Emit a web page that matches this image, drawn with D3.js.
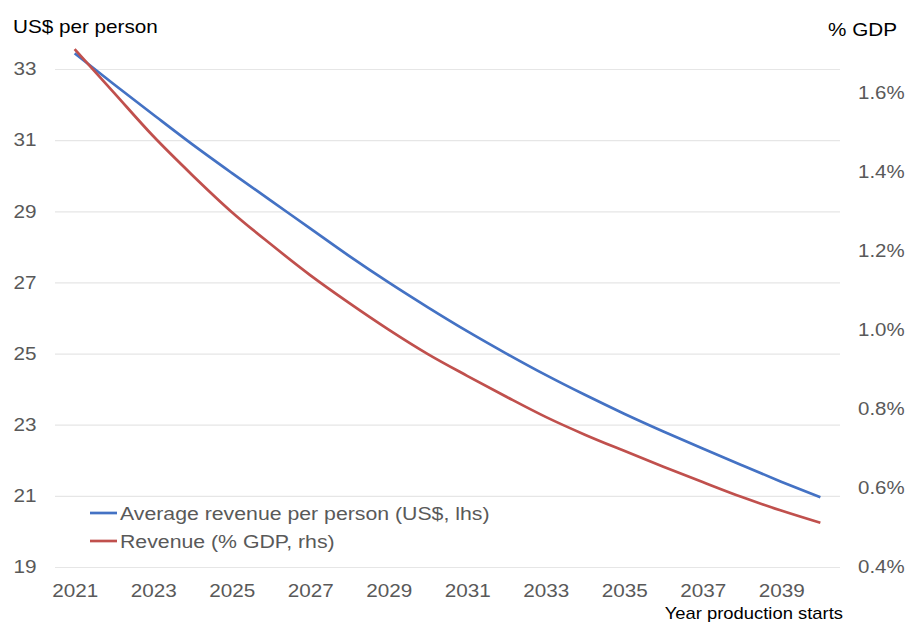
<!DOCTYPE html>
<html>
<head>
<meta charset="utf-8">
<script src="https://cdn.jsdelivr.net/npm/d3@7/dist/d3.min.js"></script>
<style>
  html, body { margin: 0; padding: 0; background: #fff; }
  svg { display: block; font-family: "Liberation Sans", Arial, sans-serif; }
</style>
</head>
<body>
<svg id="chart" width="907" height="623"></svg>
<script>
// ---- data ----
const years = [2021, 2022, 2023, 2024, 2025, 2026, 2027, 2028, 2029, 2030,
               2031, 2032, 2033, 2034, 2035, 2036, 2037, 2038, 2039, 2040];
const revenuePerPerson = [33.44, 32.57, 31.72, 30.88, 30.08, 29.30, 28.52, 27.74, 27.00, 26.30,
                          25.63, 25.00, 24.40, 23.84, 23.31, 22.81, 22.33, 21.86, 21.40, 20.96];
const revenuePctGDP = [1.711, 1.601, 1.491, 1.392, 1.299, 1.217, 1.139, 1.068, 1.001, 0.939,
                       0.884, 0.831, 0.780, 0.735, 0.694, 0.654, 0.615, 0.577, 0.543, 0.512];
const xTickLabels = [2021, 2023, 2025, 2027, 2029, 2031, 2033, 2035, 2037, 2039];
const leftTicks = [19, 21, 23, 25, 27, 29, 31, 33];
const rightTicks = [0.4, 0.6, 0.8, 1.0, 1.2, 1.4, 1.6];
const seriesNames = ["Average revenue per person (US$, lhs)", "Revenue (% GDP, rhs)"];

// ---- layout ----
const svg = d3.select("#chart");
const plotL = 55, plotR = 840;
const stretch = "scale(1.15,1)";
const blue = "#4472C4", red = "#C0504D", tickColor = "#595959";

const x = d3.scalePoint().domain(years).range([plotL, plotR]).padding(0.5);
const yL = d3.scaleLinear().domain([19, 33]).range([567, 69]);
const yR = d3.scaleLinear().domain([0.4, 1.6]).range([567, 93]);

// gridlines
const grid = svg.append("g").attr("transform", `translate(${plotL},0)`)
  .call(d3.axisLeft(yL).tickValues(leftTicks).tickSize(-(plotR - plotL)).tickFormat(""));
grid.select(".domain").remove();
grid.selectAll(".tick line").attr("stroke", "#e6e6e6").attr("stroke-width", 1.2);

// left axis
const gL = svg.append("g").attr("transform", "translate(36.5,0)")
  .call(d3.axisLeft(yL).tickValues(leftTicks).tickSize(0).tickPadding(0).tickFormat(d3.format("d")));
gL.select(".domain").remove();
gL.selectAll("text").attr("x", 0).attr("fill", tickColor).attr("font-size", 18)
  .attr("font-family", "Liberation Sans, Arial, sans-serif").attr("transform", stretch);

// right axis
const gR = svg.append("g").attr("transform", "translate(858,0)")
  .call(d3.axisRight(yR).tickValues(rightTicks).tickSize(0).tickPadding(0)
    .tickFormat(d => d.toFixed(1) + "%"));
gR.select(".domain").remove();
gR.selectAll("text").attr("x", 0).attr("fill", tickColor).attr("font-size", 17.8)
  .attr("font-family", "Liberation Sans, Arial, sans-serif").attr("transform", stretch);

// x axis
const gX = svg.append("g").attr("transform", "translate(0,578)")
  .call(d3.axisBottom(x).tickValues(xTickLabels).tickSize(0).tickPadding(6).tickFormat(d3.format("d")));
gX.select(".domain").remove();
gX.selectAll("text").attr("fill", tickColor).attr("font-size", 18)
  .attr("font-family", "Liberation Sans, Arial, sans-serif").attr("transform", stretch);

// lines
const lineL = d3.line().x((d, i) => x(years[i])).y(d => yL(d)).curve(d3.curveMonotoneX);
const lineR = d3.line().x((d, i) => x(years[i])).y(d => yR(d)).curve(d3.curveMonotoneX);

svg.append("path").datum(revenuePerPerson).attr("d", lineL)
  .attr("fill", "none").attr("stroke", blue).attr("stroke-width", 2.7).attr("stroke-linejoin", "round");
svg.append("path").datum(revenuePctGDP).attr("d", lineR)
  .attr("fill", "none").attr("stroke", red).attr("stroke-width", 2.7).attr("stroke-linejoin", "round");

// axis titles
function stretchedText(tx, ty, str, anchor, size, color) {
  svg.append("text").attr("transform", `translate(${tx},${ty}) ${stretch}`)
    .attr("text-anchor", anchor).attr("font-size", size).attr("fill", color).text(str);
}
stretchedText(13, 33, "US$ per person", "start", 18, "#000");
stretchedText(897, 36, "% GDP", "end", 18, "#000");
stretchedText(843, 619, "Year production starts", "end", 16, "#000");

// legend
const legend = svg.append("g");
const legendItems = [
  { name: seriesNames[0], color: blue, y: 513 },
  { name: seriesNames[1], color: red, y: 541 }
];
legendItems.forEach(it => {
  legend.append("line").attr("x1", 90).attr("x2", 117).attr("y1", it.y).attr("y2", it.y)
    .attr("stroke", it.color).attr("stroke-width", 2.7);
  legend.append("text").attr("transform", `translate(120,${it.y + 7}) ${stretch}`)
    .attr("font-size", 18.5).attr("fill", tickColor).text(it.name);
});
</script>
</body>
</html>
